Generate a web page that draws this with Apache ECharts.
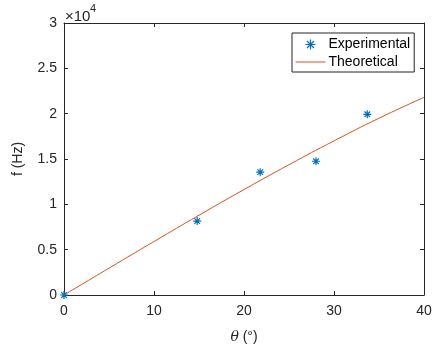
<!DOCTYPE html>
<html><head><meta charset="utf-8">
<script src="https://cdn.jsdelivr.net/npm/echarts@6/dist/echarts.min.js"></script>
<style>html,body{margin:0;padding:0;background:#fff}#c{width:435px;height:349px}</style>
</head><body><div id="c"></div>
<script>
const expTheta = [0, 14.8, 21.8, 28.0, 33.7];
const expFreq = [0, 8150, 13550, 14750, 19930];
const theoTheta = [0, 5, 10, 15, 20, 25, 30, 35, 40];
const theoFreq = [0, 2960, 5900, 8800, 11630, 14370, 17000, 19500, 21800];
const xTicks = [0, 10, 20, 30, 40];
const yTickLabels = ['0', '0.5', '1', '1.5', '2', '2.5', '3'];

const font = 'Liberation Sans, Arial, Helvetica, sans-serif';
const axisCol = '#262626';
const chart = echarts.init(document.getElementById('c'), null, {renderer: 'canvas'});
const star = 'path://M0,-10L0,10M-10,0L10,0M-7,-7L7,7M-7,7L7,-7';
const grid = {left: 64, top: 23, right: 11, bottom: 52, containLabel: false};
const baseX = {type: 'value', min: xTicks[0], max: xTicks[xTicks.length-1], interval: 10,
  axisLine: {show: true, onZero: false, lineStyle: {color: axisCol, width: 1}},
  axisTick: {show: true, inside: true, length: 4, lineStyle: {color: axisCol}},
  splitLine: {show: false}};
const baseY = {type: 'value', min: 0, max: 30000, interval: 5000,
  axisLine: {show: true, onZero: false, lineStyle: {color: axisCol, width: 1}},
  axisTick: {show: true, inside: true, length: 4, lineStyle: {color: axisCol}},
  splitLine: {show: false}};
chart.setOption({
  animation: false,
  grid: grid,
  xAxis: [
    Object.assign({}, baseX, {position: 'bottom',
      axisLabel: {color: axisCol, fontFamily: font, fontSize: 14, margin: 9},
      name: '{i|θ} (°)', nameLocation: 'middle', nameGap: 35,
      nameTextStyle: {color: axisCol, fontFamily: font, fontSize: 14,
        rich: {i: {fontStyle: 'italic', fontFamily: 'DejaVu Serif, serif', fontSize: 14, color: axisCol}}}}),
    Object.assign({}, baseX, {position: 'top', axisLabel: {show: false}})
  ],
  yAxis: [
    Object.assign({}, baseY, {position: 'left',
      axisLabel: {color: axisCol, fontFamily: font, fontSize: 14, margin: 7,
        formatter: (v) => yTickLabels[Math.round(v / 5000)]},
      name: 'f (Hz)', nameLocation: 'middle', nameGap: 39,
      nameTextStyle: {color: axisCol, fontFamily: font, fontSize: 14}}),
    Object.assign({}, baseY, {position: 'right', axisLabel: {show: false}})
  ],
  legend: {
    left: 292, top: 33, orient: 'vertical', itemWidth: 30, itemHeight: 10, itemGap: 3,
    padding: [4, 4, 3, 3],
    borderColor: axisCol, borderWidth: 1, backgroundColor: '#fff',
    textStyle: {color: '#000', fontFamily: font, fontSize: 14, padding: [0, 0, 0, -2]},
    data: [
      {name: 'Experimental', icon: star, itemStyle: {color: 'none', borderColor: '#0072BD', borderWidth: 1.2}},
      {name: 'Theoretical', itemStyle: {opacity: 0}, lineStyle: {color: '#D95319', width: 1}}
    ]
  },
  graphic: [
    {type: 'text', left: 65, top: 9, style: {text: '×10', fill: axisCol, font: '15px ' + font}},
    {type: 'text', left: 90, top: 3, style: {text: '4', fill: axisCol, font: '11px ' + font}}
  ],
  series: [
    {name: 'Theoretical', type: 'line', smooth: true, showSymbol: false, symbol: 'none',
      data: theoTheta.map((t, i) => [t, theoFreq[i]]),
      lineStyle: {color: '#D95319', width: 1}, itemStyle: {color: '#D95319'}, z: 2},
    {name: 'Experimental', type: 'scatter', symbol: star, symbolSize: 8,
      data: expTheta.map((t, i) => [t, expFreq[i]]),
      itemStyle: {color: 'none', borderColor: '#0072BD', borderWidth: 1.2, opacity: 1}, z: 3}
  ]
});
</script></body></html>
